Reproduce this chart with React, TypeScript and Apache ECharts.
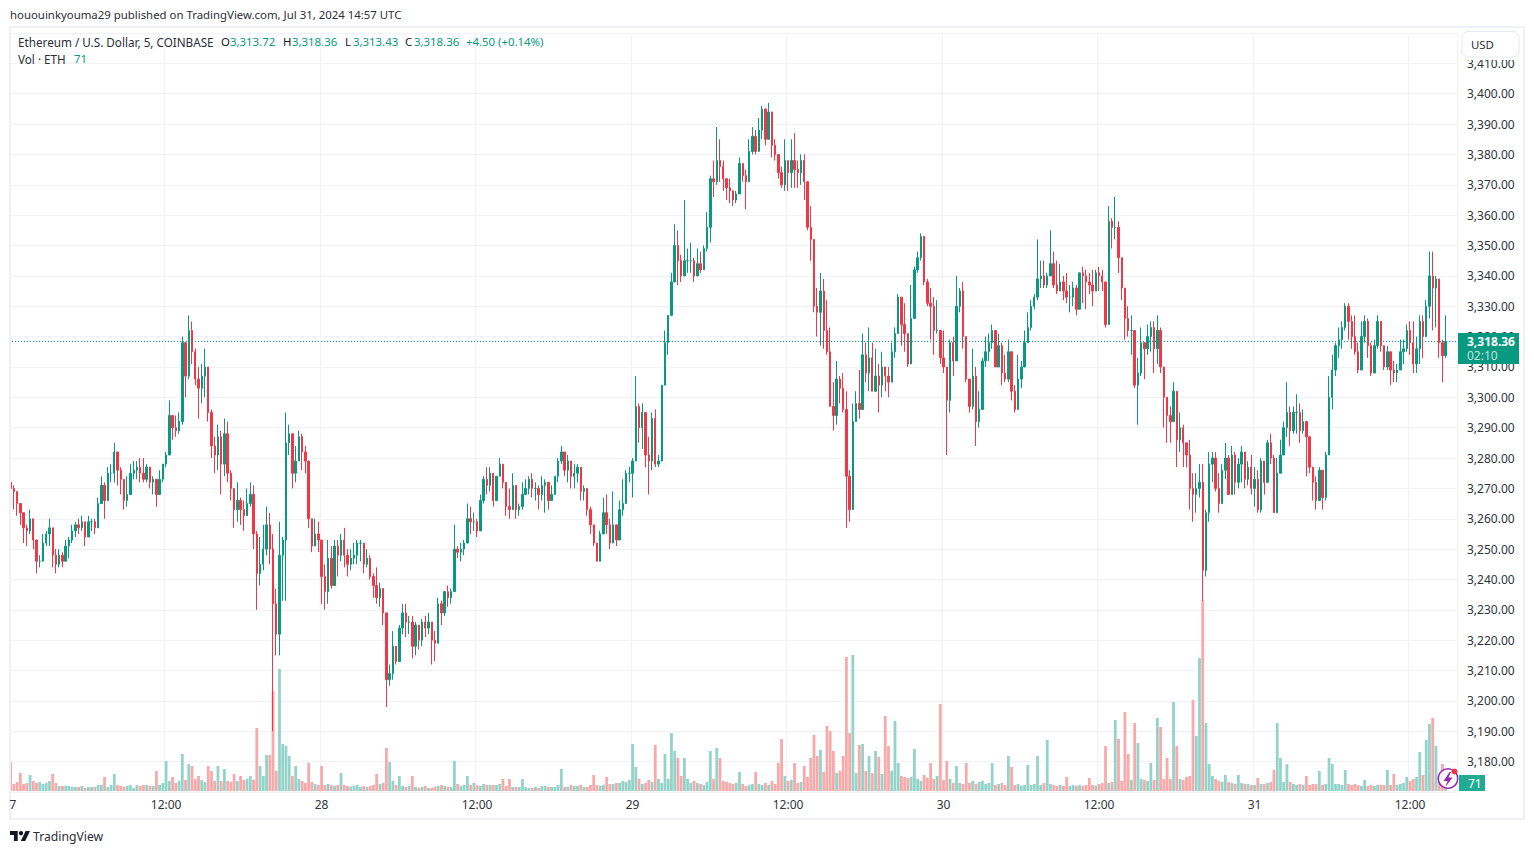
import React, { useEffect, useRef } from "react";
import * as echarts from "echarts";

// One row per 15 minutes: [close, high, low, volume in ETH].
const jul27am = [
  [3270,3276,3266,261],[3269,3271,3263,63],[3265,3268,3261,81],[3262,3264,3258,162],[3257,3260,3252,63],[3256,3258,3251,72],
  [3260,3263,3255,144],[3253,3258,3250,90],[3246,3249,3242,72],[3246,3248,3244,81],[3252,3255,3246,63],[3255,3256,3251,72],
  [3257,3260,3251,90],[3248,3253,3244,153],[3245,3250,3242,72],[3248,3250,3244,45],[3246,3249,3244,45],[3251,3253,3246,45],
  [3253,3254,3247,45],[3256,3258,3252,36],[3258,3259,3254,36],[3257,3260,3255,36],[3259,3261,3256,45],[3254,3258,3251,27],
  [3259,3261,3254,36],[3259,3260,3256,36],[3257,3260,3255,36],[3265,3267,3257,54],[3271,3274,3266,54],[3266,3272,3260,126],
  [3275,3277,3270,36],[3275,3278,3272,54],[3282,3285,3272,153],[3276,3282,3271,54],[3273,3277,3268,45],[3266,3272,3263,36],
  [3268,3274,3264,45],[3275,3278,3269,54],[3276,3279,3273,27],[3277,3279,3273,54],[3275,3280,3272,45],[3273,3280,3272,54],
  [3277,3278,3272,54],[3272,3276,3270,45],[3273,3274,3268,45],[3268,3272,3264,180],[3273,3276,3270,54],[3278,3278,3272,72],
];
const jul27pm = [
  [3281,3282,3277,270],[3294,3299,3281,90],[3290,3294,3286,126],[3289,3294,3287,72],[3292,3295,3288,90],[3318,3320,3291,333],
  [3307,3316,3300,99],[3322,3327,3306,243],[3315,3325,3311,225],[3306,3316,3304,108],[3303,3310,3293,135],[3307,3311,3298,99],
  [3310,3316,3300,81],[3295,3301,3292,225],[3284,3296,3280,180],[3281,3287,3275,90],[3287,3291,3276,225],[3278,3289,3268,90],
  [3288,3293,3274,198],[3275,3292,3272,90],[3270,3276,3266,81],[3263,3270,3257,153],[3266,3272,3259,90],[3263,3267,3258,135],
  [3261,3266,3256,99],[3265,3270,3261,108],[3268,3272,3264,135],[3255,3271,3250,99],[3242,3256,3230,567],[3245,3254,3238,225],
  [3250,3258,3243,135],[3258,3264,3248,324],[3250,3262,3245,324],[3232,3255,3190,900],[3222,3237,3215,180],[3248,3259,3215,1098],
  [3253,3254,3233,423],[3285,3295,3233,405],[3288,3291,3281,315],[3275,3288,3270,135],[3279,3284,3272,225],[3287,3289,3279,108],
  [3282,3288,3276,90],[3279,3284,3275,72],[3260,3275,3257,252],[3251,3260,3249,81],[3255,3260,3251,63],[3253,3259,3249,54],
];
const jul28am = [
  [3241,3250,3232,225],[3236,3245,3230,54],[3247,3253,3232,63],[3238,3251,3237,54],[3251,3253,3244,45],[3248,3253,3241,54],
  [3253,3255,3246,162],[3248,3257,3244,54],[3245,3250,3241,45],[3247,3250,3243,36],[3248,3252,3245,45],[3252,3253,3245,54],
  [3252,3253,3246,36],[3245,3250,3242,45],[3247,3250,3244,36],[3241,3248,3240,45],[3238,3242,3234,54],[3234,3244,3232,153],
  [3237,3239,3231,63],[3229,3234,3225,72],[3207,3228,3198,387],[3209,3212,3205,261],[3218,3223,3207,90],[3213,3218,3212,54],
  [3224,3225,3213,135],[3229,3232,3222,45],[3226,3232,3221,36],[3226,3228,3222,45],[3218,3228,3214,135],[3225,3226,3215,36],
  [3220,3224,3217,27],[3226,3227,3218,36],[3224,3228,3221,45],[3226,3229,3222,27],[3220,3224,3212,27],[3219,3223,3213,36],
  [3232,3234,3224,45],[3229,3233,3225,54],[3236,3236,3228,45],[3234,3238,3231,36],[3236,3237,3232,36],[3250,3258,3245,270],
  [3249,3251,3247,63],[3250,3252,3246,45],[3252,3253,3248,54],[3260,3265,3252,135],[3259,3264,3255,54],[3259,3262,3256,72],
];
const jul28pm = [
  [3256,3260,3254,54],[3266,3268,3259,45],[3273,3274,3265,63],[3271,3277,3268,54],[3275,3277,3269,54],[3266,3272,3264,54],
  [3274,3274,3266,54],[3278,3280,3274,63],[3272,3276,3270,108],[3264,3271,3261,45],[3263,3270,3260,108],[3271,3275,3266,36],
  [3263,3267,3260,36],[3264,3265,3261,36],[3268,3272,3263,108],[3270,3273,3268,36],[3273,3274,3268,27],[3270,3275,3267,27],
  [3270,3272,3266,36],[3268,3271,3263,27],[3271,3274,3266,45],[3272,3273,3262,45],[3266,3270,3263,36],[3268,3271,3266,36],
  [3274,3274,3268,36],[3279,3280,3272,54],[3282,3284,3278,198],[3276,3281,3274,36],[3279,3281,3272,36],[3274,3278,3270,54],
  [3275,3278,3270,45],[3277,3278,3272,45],[3269,3274,3266,54],[3270,3271,3266,36],[3263,3268,3261,36],[3258,3264,3255,54],
  [3252,3256,3251,144],[3246,3252,3246,54],[3255,3256,3251,45],[3262,3267,3258,54],[3258,3268,3255,126],[3252,3260,3250,63],
  [3258,3269,3256,63],[3253,3258,3251,72],[3263,3266,3253,72],[3265,3273,3261,90],[3275,3276,3265,81],[3275,3277,3272,99],
];
const jul29am = [
  [3279,3280,3267,423],[3297,3307,3279,216],[3290,3298,3285,108],[3295,3298,3283,63],[3281,3293,3277,72],[3279,3287,3268,99],
  [3293,3295,3276,81],[3278,3296,3277,414],[3279,3281,3277,108],[3304,3304,3280,72],[3318,3322,3304,333],[3327,3327,3314,108],
  [3338,3341,3327,522],[3350,3357,3338,360],[3345,3355,3337,297],[3340,3347,3338,135],[3345,3365,3342,297],[3345,3349,3341,108],
  [3345,3351,3341,72],[3340,3346,3338,90],[3344,3349,3341,72],[3342,3348,3341,63],[3349,3350,3343,54],[3356,3361,3348,81],
  [3372,3373,3351,360],[3371,3378,3366,108],[3378,3389,3370,387],[3376,3385,3371,297],[3372,3378,3368,90],[3369,3372,3365,81],
  [3368,3372,3364,72],[3365,3367,3363,63],[3367,3368,3364,72],[3377,3379,3371,171],[3373,3377,3371,63],[3371,3375,3362,45],
  [3381,3385,3376,54],[3386,3389,3380,63],[3381,3388,3380,171],[3388,3392,3382,63],[3395,3396,3385,54],[3385,3391,3383,72],
  [3394,3397,3386,54],[3383,3390,3379,90],[3380,3385,3378,63],[3374,3380,3372,252],[3370,3376,3369,468],[3378,3385,3368,135],
];
const jul29pm = [
  [3374,3376,3368,90],[3378,3385,3369,99],[3375,3387,3369,252],[3374,3378,3369,72],[3378,3380,3370,81],[3371,3380,3365,225],
  [3356,3362,3355,126],[3352,3363,3345,297],[3330,3351,3328,504],[3328,3336,3320,315],[3335,3341,3317,369],[3322,3339,3316,171],
  [3315,3332,3314,585],[3297,3323,3297,540],[3294,3305,3289,360],[3306,3312,3291,162],[3303,3307,3298,180],[3296,3308,3295,315],
  [3274,3302,3257,1206],[3263,3276,3259,522],[3292,3298,3264,1224],[3298,3302,3294,162],[3296,3309,3293,414],[3314,3321,3296,423],
  [3308,3318,3305,180],[3313,3323,3302,315],[3302,3318,3302,162],[3307,3316,3303,360],[3304,3311,3295,306],[3310,3315,3300,153],
  [3307,3309,3302,675],[3305,3310,3300,405],[3315,3318,3305,180],[3321,3323,3313,630],[3333,3334,3322,252],[3324,3331,3317,135],
  [3321,3331,3315,126],[3311,3320,3310,117],[3326,3337,3313,126],[3342,3343,3328,378],[3346,3348,3341,108],[3353,3354,3345,90],
  [3338,3351,3337,144],[3331,3339,3330,117],[3330,3336,3319,252],[3322,3333,3314,108],[3322,3332,3321,135],[3313,3321,3311,783],
];
const jul30am = [
  [3310,3322,3308,99],[3299,3309,3281,270],[3318,3319,3295,108],[3312,3320,3307,72],[3330,3340,3312,225],[3335,3336,3328,72],
  [3320,3338,3316,63],[3306,3320,3305,252],[3297,3306,3295,72],[3307,3316,3296,90],[3292,3310,3284,63],[3296,3302,3290,81],
  [3312,3313,3296,90],[3315,3320,3310,63],[3318,3321,3312,72],[3322,3324,3316,252],[3310,3322,3310,54],[3317,3321,3312,63],
  [3308,3318,3304,72],[3306,3314,3305,54],[3315,3319,3305,315],[3302,3309,3299,216],[3296,3304,3295,54],[3306,3314,3296,63],
  [3310,3312,3303,45],[3318,3322,3312,54],[3323,3328,3318,234],[3330,3332,3322,54],[3333,3334,3329,63],[3339,3352,3332,315],
  [3340,3345,3336,54],[3337,3345,3336,72],[3340,3341,3336,459],[3344,3355,3342,63],[3337,3348,3336,54],[3335,3345,3334,45],
  [3338,3344,3336,54],[3335,3340,3332,45],[3333,3341,3331,126],[3333,3337,3328,45],[3336,3338,3330,54],[3329,3337,3327,45],
  [3341,3341,3331,54],[3340,3343,3331,45],[3338,3342,3329,54],[3337,3341,3334,117],[3335,3342,3330,54],[3341,3342,3335,45],
];
const jul30pm = [
  [3340,3343,3335,63],[3338,3342,3335,72],[3324,3335,3323,405],[3358,3363,3324,72],[3356,3359,3349,81],[3356,3366,3352,639],
  [3346,3358,3341,468],[3336,3346,3332,90],[3326,3336,3319,711],[3322,3330,3320,333],[3322,3327,3314,99],[3304,3316,3303,612],
  [3308,3313,3291,432],[3318,3323,3307,108],[3316,3318,3306,99],[3320,3324,3314,90],[3323,3325,3315,252],[3316,3325,3308,99],
  [3322,3327,3311,657],[3310,3323,3308,576],[3300,3306,3290,108],[3294,3297,3285,297],[3292,3297,3285,108],[3302,3305,3292,801],
  [3286,3297,3277,405],[3290,3295,3282,108],[3285,3291,3277,99],[3281,3285,3277,126],[3270,3286,3263,135],[3268,3275,3259,819],
  [3270,3275,3262,495],[3272,3278,3267,1197],[3243,3278,3233,1719],[3262,3263,3241,612],[3278,3282,3259,243],[3280,3282,3272,135],
  [3270,3282,3269,108],[3265,3275,3262,90],[3276,3278,3267,81],[3280,3285,3273,144],[3268,3281,3268,81],[3281,3284,3272,72],
  [3272,3282,3268,63],[3278,3280,3270,144],[3282,3284,3272,72],[3273,3280,3270,63],[3277,3279,3271,63],[3270,3281,3268,54],
];
const jul31am = [
  [3273,3277,3264,54],[3263,3276,3262,117],[3279,3280,3262,63],[3272,3278,3268,63],[3285,3286,3276,72],[3280,3288,3278,81],
  [3262,3281,3262,189],[3275,3280,3266,612],[3281,3286,3279,297],[3290,3292,3282,81],[3295,3305,3287,243],[3289,3297,3284,81],
  [3295,3297,3288,63],[3295,3301,3288,54],[3289,3298,3285,63],[3292,3296,3288,54],[3287,3290,3274,135],[3277,3282,3275,54],
  [3272,3277,3266,63],[3266,3274,3263,63],[3276,3277,3268,180],[3267,3274,3263,54],[3281,3282,3266,63],[3300,3307,3281,297],
  [3309,3314,3296,243],[3317,3318,3307,63],[3319,3323,3313,63],[3323,3325,3316,54],[3330,3331,3322,189],[3325,3331,3319,63],
  [3320,3327,3316,54],[3315,3327,3314,63],[3309,3318,3308,54],[3320,3325,3310,45],[3325,3327,3318,99],[3317,3326,3313,45],
  [3308,3318,3307,54],[3317,3319,3310,45],[3325,3327,3316,54],[3317,3324,3315,54],[3310,3315,3309,54],[3315,3317,3309,189],
  [3309,3314,3304,54],[3308,3312,3305,153],[3309,3311,3305,54],[3315,3319,3312,63],[3316,3319,3311,72],[3322,3324,3315,126],
];
const jul31pm = [
  [3318,3325,3314,90],[3311,3325,3308,108],[3316,3320,3308,126],[3325,3327,3311,351],[3320,3327,3313,144],[3330,3332,3321,459],
  [3340,3348,3326,603],[3336,3348,3322,657],[3339,3340,3323,405],[3318,3328,3313,135],[3313.72,3319,3305,243],[3318.36,3327,3313,71],
];
const firstOpen = 3272;
const emptySlots = 3;
const yTickStep = 10;
const priceMin = 3170;
const priceMax = 3420;
const lastPrice = 3318.36;
const lastPriceText = "3,318.36";
const countdownText = "02:10";
const dayLabels = ["27", "28", "29", "30", "31"];
const headerText = "hououinkyouma29 published on TradingView.com, Jul 31, 2024 14:57 UTC";
const symbolText = "Ethereum / U.S. Dollar, 5, COINBASE";
const ohlcPieces: [string, string, number][] = [
  ["O", "#131722", 221], ["3,313.72", "#089981", 230], ["H", "#131722", 283], ["3,318.36", "#089981", 292],
  ["L", "#131722", 345], ["3,313.43", "#089981", 353], ["C", "#131722", 405], ["3,318.36", "#089981", 414],
  ["+4.50 (+0.14%)", "#089981", 466],
];

const UP = "#089981";
const DOWN = "#F23645";
const UP_PALE = "#94d3c9";
const DOWN_PALE = "#f8a9a9";
const GRID = "#f1f2f6";
const FONT = "'Noto Sans', sans-serif";

echarts.graphic.registerShape(
  "tvBolt",
  echarts.graphic.extendPath("M6 0L0 9H4L2 15L9 5.5H5L7.5 0Z", {}) as any
);

const rows = [...jul27am, ...jul27pm, ...jul28am, ...jul28pm, ...jul29am, ...jul29pm, ...jul30am, ...jul30pm, ...jul31am, ...jul31pm];
const categories: string[] = [];
for (let i = 0; i < rows.length + emptySlots; i++) {
  if (i % 96 === 0) categories.push(dayLabels[i / 96]);
  else if (i % 48 === 0) categories.push("12:00");
  else categories.push(`${i}`);
}
let prev = firstOpen;
const candleData = rows.map(([c, h, l]) => {
  const o = prev;
  prev = c;
  return [o, c, Math.min(l, o, c), Math.max(h, o, c)];
});
const volumeData = rows.map(([, , , v], i) => ({
  value: v,
  itemStyle: { color: candleData[i][1] >= candleData[i][0] ? UP_PALE : DOWN_PALE },
}));

const text = (x: number, y: number, t: string, fill: string, extra: any = {}) => ({
  type: "text",
  x,
  y,
  z: 100,
  silent: true,
  style: { text: t, fill, font: `11.4px ${FONT}`, textVerticalAlign: "middle", ...extra },
});

export default function App() {
  const ref = useRef<HTMLDivElement>(null);
  useEffect(() => {
    const chart = echarts.init(ref.current!, undefined, { renderer: "svg" });
    const pickMajor = (i: number) => i % 48 === 0;
    chart.setOption({
      animation: false,
      backgroundColor: "#ffffff",
      grid: [
        { left: 9, top: 33, width: 1448, height: 759 },
        { left: 9, top: 32, width: 1448, height: 759 },
      ],
      xAxis: [
        {
          type: "category",
          gridIndex: 0,
          data: categories,
          axisLine: { show: false },
          axisTick: { show: false, alignWithLabel: true },
          axisLabel: {
            interval: (i: number) => pickMajor(i) && i > 0,
            margin: 6,
            color: "#2f333d",
            fontFamily: FONT,
            fontSize: 12,
            hideOverlap: false,
          },
          splitLine: { show: true, interval: (i: number) => pickMajor(i) && i > 0, lineStyle: { color: GRID, width: 1 } },
        },
        { type: "category", gridIndex: 1, data: categories, show: false },
      ],
      yAxis: [
        {
          type: "value",
          gridIndex: 0,
          position: "right",
          min: priceMin,
          max: priceMax,
          interval: yTickStep,
          axisLine: { show: false },
          axisTick: { show: false },
          axisLabel: {
            margin: 10,
            showMinLabel: false,
            showMaxLabel: false,
            color: "#2f333d",
            fontFamily: FONT,
            fontSize: 12,
            padding: [0, 0, 5, 0],
            formatter: (v: number) => v.toLocaleString("en-US", { minimumFractionDigits: 2 }),
          },
          splitLine: { show: true, lineStyle: { color: GRID, width: 1 } },
        },
        { type: "value", gridIndex: 1, min: 0, max: 6831, show: false },
      ],
      series: [
        {
          type: "bar",
          xAxisIndex: 1,
          yAxisIndex: 1,
          data: volumeData,
          barWidth: 2.8,
          z: 1,
          silent: true,
        },
        {
          type: "candlestick",
          xAxisIndex: 0,
          yAxisIndex: 0,
          data: candleData,
          barWidth: 1.9,
          z: 2,
          silent: true,
          itemStyle: { color: UP, color0: DOWN, borderColor: UP, borderColor0: DOWN, borderWidth: 1 },
          markLine: {
            silent: true,
            symbol: "none",
            label: { show: false },
            lineStyle: { color: UP, type: [1, 2], width: 1 },
            data: [{ yAxis: lastPrice }],
          },
        },
      ],
      graphic: [
        { type: "rect", z: 90, silent: true, shape: { x: 10, y: 27, width: 1514, height: 792 }, style: { fill: "none", stroke: "#f0f1f6", lineWidth: 2 } },
        text(10, 14.5, headerText, "#2a2e39"),
        text(18, 41.5, symbolText, "#2a2e39", { font: `11.7px ${FONT}` }),
        ...ohlcPieces.map(([t, c, x]) => text(x, 41.5, t, c)),
        text(18, 58.5, "Vol · ETH", "#2a2e39", { font: `11.7px ${FONT}` }),
        text(74, 58.5, "71", UP),
        { type: "rect", z: 94, silent: true, shape: { x: 1460, y: 29, width: 62, height: 31 }, style: { fill: "#ffffff" } },
        { type: "rect", z: 95, silent: true, shape: { x: 1462, y: 31.5, width: 57, height: 25.5, r: 6 }, style: { fill: "#ffffff", stroke: "#e6e8ef", lineWidth: 1 } },
        text(1471, 44.5, "USD", "#2a2e39"),
        { type: "rect", z: 95, silent: true, shape: { x: 1458, y: 333, width: 61, height: 31 }, style: { fill: UP } },
        text(1467, 341, lastPriceText, "#ffffff", { font: `bold 12px ${FONT}` }),
        text(1467, 355, countdownText, "rgba(255,255,255,0.75)", { font: `12px ${FONT}` }),
        { type: "rect", z: 95, silent: true, shape: { x: 1459, y: 775, width: 26, height: 16 }, style: { fill: "#22AB94" } },
        text(1468, 783.5, "71", "#ffffff", { font: `12px ${FONT}` }),
        text(13, 804, "7", "#2f333d", { textAlign: "center", font: `12px ${FONT}` }),
        { type: "circle", z: 96, silent: true, shape: { cx: 1448, cy: 778.5, r: 9.7 }, style: { fill: "#ffffff", stroke: "#9c27b0", lineWidth: 1.6 } },
        { type: "tvBolt", z: 97, silent: true, x: 1443.5, y: 772, style: { fill: "#9c27b0" } },
        { type: "circle", z: 97, silent: true, shape: { cx: 1454.5, cy: 771.5, r: 3 }, style: { fill: "#f23645" } },
        { type: "polygon", z: 96, silent: true, shape: { points: [[10, 831], [17.7, 831], [17.7, 841], [13.9, 841], [13.9, 834.9], [10, 834.9]] }, style: { fill: "#131722" } },
        { type: "circle", z: 96, silent: true, shape: { cx: 21, cy: 833.2, r: 2.2 }, style: { fill: "#131722" } },
        { type: "polygon", z: 96, silent: true, shape: { points: [[25.6, 831], [30, 831], [25.2, 841], [20.8, 841]] }, style: { fill: "#131722" } },
        text(33, 836.5, "TradingView", "#2a2e39", { font: `12.2px ${FONT}` }),
      ],
    });
    return () => chart.dispose();
  }, []);
  return <div ref={ref} style={{ position: "fixed", left: 0, top: 0, width: 1534, height: 854 }} />;
}
